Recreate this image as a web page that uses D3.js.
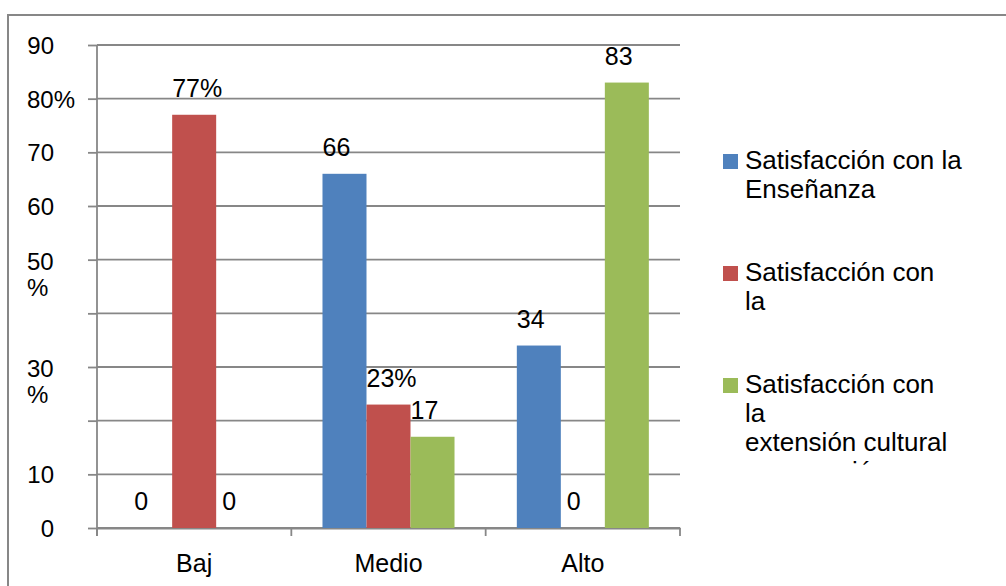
<!DOCTYPE html>
<html><head><meta charset="utf-8">
<script src="https://cdn.jsdelivr.net/npm/d3@7"></script>
<style>
body{margin:0;background:#fff}
svg{display:block}
text{font-family:"Liberation Sans",Arial,sans-serif;fill:#000}
</style>
</head><body>
<svg id="c" width="1006" height="586"></svg>
<script>
// ---- data ----
const categories = ["Baj", "Medio", "Alto"];
const seriesNames = ["Satisfacción con la Enseñanza", "Satisfacción con la", "Satisfacción con la extensión cultural y recreación"];
const blueValues = [0, 66, 34];
const redValues = [77, 23, 0];
const greenValues = [0, 17, 83];
const blueLabels = ["0", "66", "34"];
const redLabels = ["77%", "23%", "0"];
const greenLabels = ["0", "17", "83"];
const yTickValues = [0, 10, 20, 30, 40, 50, 60, 70, 80, 90];
const yTickLabels = ["0", "10", "", "30\n%", "", "50\n%", "60", "70", "80%", "90"];
const legendLines = [
  ["Satisfacción con la", "Enseñanza"],
  ["Satisfacción con", "la"],
  ["Satisfacción con", "la", "extensión cultural", "y recreación"]
];
const colors = ["#4F81BD", "#C0504D", "#9BBB59"];

const seriesValues = [blueValues, redValues, greenValues];
const seriesLabels = [blueLabels, redLabels, greenLabels];

// ---- layout ----
const svg = d3.select("#c");
const L = 97, R = 680, T = 45, B = 528;
const axisCol = "#878787";

svg.append("rect").attr("x", 0).attr("y", 0).attr("width", 1006).attr("height", 586).attr("fill", "#fff");
// outer frame
svg.append("rect").attr("x", 8).attr("y", 15).attr("width", 1010).attr("height", 600)
  .attr("fill", "none").attr("stroke", axisCol).attr("stroke-width", 2);

const y = d3.scaleLinear().domain([0, 90]).range([B, T]);
const x0 = d3.scaleBand().domain(categories).range([L, R]).paddingInner(0).paddingOuter(0);
const x1 = d3.scaleBand().domain(d3.range(seriesValues.length)).range([0, x0.bandwidth()])
  .paddingInner(0).paddingOuter(0.708);

// gridlines
svg.append("g").selectAll("line").data(yTickValues).join("line")
  .attr("x1", L).attr("x2", R).attr("y1", d => y(d)).attr("y2", d => y(d))
  .attr("stroke", axisCol).attr("stroke-width", 1.8);

// y axis
const yAxis = d3.axisLeft(y).tickValues(yTickValues).tickSize(9).tickSizeOuter(0).tickPadding(0)
  .tickFormat((d, i) => yTickLabels[i]);
const gy = svg.append("g").attr("transform", `translate(${L},0)`).call(yAxis);
gy.select(".domain").remove();
gy.selectAll(".tick line").attr("stroke", axisCol).attr("stroke-width", 1.8);
gy.selectAll(".tick text").each(function(d, i) {
  const t = d3.select(this);
  const lab = yTickLabels[i];
  const lines = lab.split("\n");
  t.text(null).attr("font-size", 24).attr("dy", null).attr("y", 8.5);
  if (lab.includes("%")) {
    t.attr("text-anchor", "start").attr("x", 27 - L);
  } else {
    t.attr("text-anchor", "end").attr("x", 54 - L);
  }
  if (lines.length > 1) t.attr("y", 9.5);
  lines.forEach((ln, k) => {
    t.append("tspan").attr("x", t.attr("x")).attr("dy", k === 0 ? 0 : 26).text(ln);
  });
});
// y axis line
svg.append("line").attr("x1", L).attr("x2", L).attr("y1", T).attr("y2", B + 8)
  .attr("stroke", axisCol).attr("stroke-width", 1.8);

// x axis
const xAxis = d3.axisBottom(x0).tickSize(0).tickPadding(0);
const gx = svg.append("g").attr("transform", `translate(0,${B})`).call(xAxis);
gx.select(".domain").attr("stroke", axisCol).attr("stroke-width", 1.8);
gx.selectAll(".tick text").attr("font-size", 25).attr("dy", null).attr("y", 44);
// boundary ticks
const bounds = categories.map(c => x0(c)).concat([x0(categories[categories.length - 1]) + x0.bandwidth()]);
svg.append("g").selectAll("line").data(bounds).join("line")
  .attr("x1", d => d).attr("x2", d => d).attr("y1", B).attr("y2", B + 8)
  .attr("stroke", axisCol).attr("stroke-width", 1.8);

// bars
const gBars = svg.append("g");
seriesValues.forEach((vals, s) => {
  gBars.append("g").selectAll("rect").data(vals).join("rect")
    .attr("x", (d, i) => x0(categories[i]) + x1(s))
    .attr("width", x1.bandwidth())
    .attr("y", d => y(d))
    .attr("height", d => y(0) - y(d))
    .attr("fill", colors[s]);
});

// data labels
seriesValues.forEach((vals, s) => {
  svg.append("g").selectAll("text").data(vals).join("text")
    .attr("x", (d, i) => x0(categories[i]) + x1(s) + (d === 0 ? 6 : 0))
    .attr("y", d => y(d) - 18)
    .attr("text-anchor", "start")
    .attr("font-size", 25)
    .text((d, i) => seriesLabels[s][i]);
});

// legend
svg.append("clipPath").attr("id", "legclip").append("rect")
  .attr("x", 700).attr("y", 0).attr("width", 306).attr("height", 466);
const gl = svg.append("g").attr("clip-path", "url(#legclip)");
legendLines.forEach((lines, i) => {
  const top = 154 + i * 112;
  gl.append("rect").attr("x", 723).attr("y", top).attr("width", 15).attr("height", 15).attr("fill", colors[i]);
  const t = gl.append("text").attr("font-size", 26).attr("x", 745).attr("y", top + 15);
  lines.forEach((ln, k) => {
    t.append("tspan").attr("x", 745).attr("dy", k === 0 ? 0 : 29).text(ln);
  });
});
</script>
</body></html>
